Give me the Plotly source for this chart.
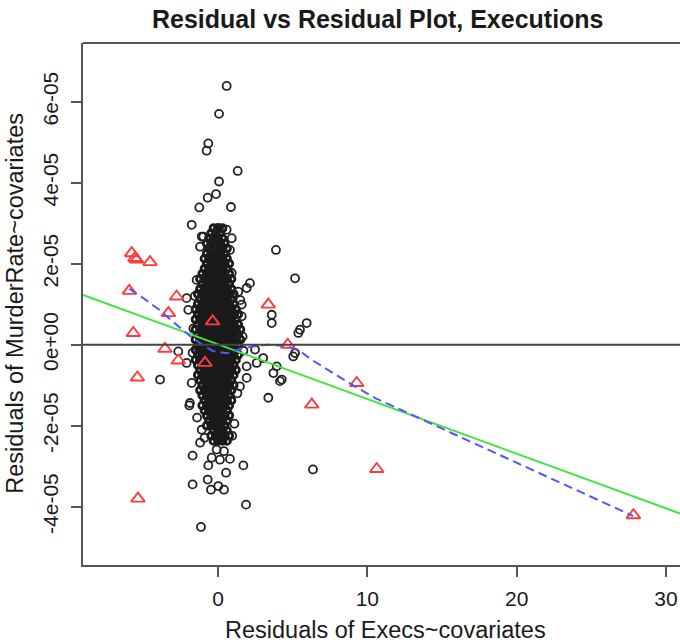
import plotly.graph_objects as go

# ---------------- data (y values in units of 1e-6) ----------------
# dense core of the black circle cloud: (y, list of x)
core_rows = [
    (28.75, [-0.3, 0.0, 0.3]),
    (27.5, [-0.45, -0.15, 0.15]),
    (26.25, [-0.6, -0.3, 0.0, 0.3]),
    (25.0, [-0.75, -0.45, -0.15, 0.15, 0.45]),
    (23.75, [-0.6, -0.3, 0.0, 0.3, 0.6]),
    (22.5, [-0.75, -0.45, -0.15, 0.15, 0.45]),
    (21.25, [-0.9, -0.6, -0.3, 0.0, 0.3, 0.6]),
    (20.0, [-0.75, -0.45, -0.15, 0.15, 0.45, 0.75]),
    (18.75, [-0.9, -0.6, -0.3, 0.0, 0.3, 0.6]),
    (17.5, [-1.05, -0.75, -0.45, -0.15, 0.15, 0.45, 0.75]),
    (16.25, [-1.2, -0.9, -0.6, -0.3, 0.0, 0.3, 0.6, 0.9]),
    (15.0, [-1.05, -0.75, -0.45, -0.15, 0.15, 0.45, 0.75]),
    (13.75, [-1.2, -0.9, -0.6, -0.3, 0.0, 0.3, 0.6, 0.9]),
    (12.5, [-1.35, -1.05, -0.75, -0.45, -0.15, 0.15, 0.45, 0.75, 1.05]),
    (11.25, [-1.2, -0.9, -0.6, -0.3, 0.0, 0.3, 0.6, 0.9]),
    (10.0, [-1.35, -1.05, -0.75, -0.45, -0.15, 0.15, 0.45, 0.75, 1.05]),
    (8.75, [-1.5, -1.2, -0.9, -0.6, -0.3, 0.0, 0.3, 0.6, 0.9, 1.2]),
    (7.5, [-1.35, -1.05, -0.75, -0.45, -0.15, 0.15, 0.45, 0.75, 1.05, 1.35]),
    (6.25, [-1.5, -1.2, -0.9, -0.6, -0.3, 0.0, 0.3, 0.6, 0.9, 1.2]),
    (5.0, [-1.35, -1.05, -0.75, -0.45, -0.15, 0.15, 0.45, 0.75, 1.05, 1.35]),
    (3.75, [-1.5, -1.2, -0.9, -0.6, -0.3, 0.0, 0.3, 0.6, 0.9, 1.2, 1.5]),
    (2.5, [-1.35, -1.05, -0.75, -0.45, -0.15, 0.15, 0.45, 0.75, 1.05, 1.35]),
    (1.25, [-1.5, -1.2, -0.9, -0.6, -0.3, 0.0, 0.3, 0.6, 0.9, 1.2, 1.5]),
    (0.0, [-1.35, -1.05, -0.75, -0.45, -0.15, 0.15, 0.45, 0.75, 1.05, 1.35]),
    (-1.25, [-1.5, -1.2, -0.9, -0.6, -0.3, 0.0, 0.3, 0.6, 0.9, 1.2]),
    (-2.5, [-1.35, -1.05, -0.75, -0.45, -0.15, 0.15, 0.45, 0.75, 1.05, 1.35]),
    (-3.75, [-1.5, -1.2, -0.9, -0.6, -0.3, 0.0, 0.3, 0.6, 0.9, 1.2]),
    (-5.0, [-1.35, -1.05, -0.75, -0.45, -0.15, 0.15, 0.45, 0.75, 1.05]),
    (-6.25, [-1.2, -0.9, -0.6, -0.3, 0.0, 0.3, 0.6, 0.9, 1.2]),
    (-7.5, [-1.35, -1.05, -0.75, -0.45, -0.15, 0.15, 0.45, 0.75, 1.05]),
    (-8.75, [-1.2, -0.9, -0.6, -0.3, 0.0, 0.3, 0.6, 0.9]),
    (-10.0, [-1.05, -0.75, -0.45, -0.15, 0.15, 0.45, 0.75, 1.05]),
    (-11.25, [-1.2, -0.9, -0.6, -0.3, 0.0, 0.3, 0.6, 0.9]),
    (-12.5, [-1.05, -0.75, -0.45, -0.15, 0.15, 0.45, 0.75]),
    (-13.75, [-0.9, -0.6, -0.3, 0.0, 0.3, 0.6, 0.9]),
    (-15.0, [-1.05, -0.75, -0.45, -0.15, 0.15, 0.45, 0.75]),
    (-16.25, [-0.9, -0.6, -0.3, 0.0, 0.3, 0.6]),
    (-17.5, [-0.75, -0.45, -0.15, 0.15, 0.45, 0.75]),
    (-18.75, [-0.6, -0.3, 0.0, 0.3, 0.6]),
    (-20.0, [-0.75, -0.45, -0.15, 0.15, 0.45]),
    (-21.25, [-0.3, 0.0, 0.3, 0.6]),
    (-22.5, [-0.45, -0.15, 0.15, 0.45, 0.75]),
    (-23.75, [-0.3, 0.0, 0.3, 0.6]),
]

# scattered black circles outside the core
outlier_x = [0.58, 0.07, -0.65, -0.76, 1.32, 0.07, -0.13, -0.69, -1.25, 0.87,
             -1.76, -1.09, 0.02, 0.58, 0.80, 3.88, -0.20, -0.42,
             5.16, 2.14, 1.92, 1.36, 0.92, 0.92, -2.10, -1.99, -1.43, -1.20,
             -0.98, 1.59, 1.59, 3.60, 3.60, 5.94, 5.49, 5.38, -2.66, -3.88,
             2.48, 3.03, 2.59, 1.92, 3.93, 3.71, 4.27, 5.16, 5.04, 3.37,
             1.92, 1.47, -1.88, -1.76, -2.10,
             4.15, -1.92, -1.09, -1.20, -1.70, -0.09, 0.40, 0.80, -0.42,
             0.13, -0.65, 0.54, 1.70, -1.70, -0.69, -0.47, 0.02, 0.40, 1.88,
             -1.14, 6.36,
             -1.65, -1.70, 1.65, 1.70, 1.50, -1.55, 1.30, -1.40, 1.10, 0.95,
             -0.90]
outlier_y = [63.9, 57.0, 49.7, 47.9, 42.9, 40.3, 37.2, 36.3, 33.9, 34.0,
             29.6, 26.7, 28.8, 28.4, 23.4, 23.4, 26.7, 24.2,
             16.4, 15.2, 14.0, 13.1, 17.7, 26.3, 11.5, 8.6, 16.0, 24.2,
             26.7, 9.9, 7.0, 7.4, 5.35, 5.35, 3.7, 2.9, -1.65, -8.6,
             -1.2, -3.3, -4.5, -5.35, -5.35, -7.0, -8.6, -2.05, -2.9, -13.1,
             -8.2, -10.3, -14.4, -9.45, -4.5,
             -9.0, -15.0, -21.0, -24.2, -27.4, -25.9, -26.3, -28.2, -27.9,
             -28.4, -29.8, -31.6, -29.8, -34.5, -33.3, -35.8, -34.9, -35.8, -39.5,
             -45.0, -30.8,
             4.0, -2.0, 2.0, -1.5, 11.0, 12.0, -12.0, -18.0, -19.5, -22.5,
             -23.0]

# red triangles
tri_x = [-5.78, -5.56, -5.45, -4.55, -5.94, -2.77, -3.32, -5.67, -3.55, -2.66,
         -5.40, -0.36, -0.87, 3.37, 4.67, 6.28, 9.29, 10.63, 27.82, -5.36]
tri_y = [22.6, 21.4, 21.0, 20.4, 13.3, 11.9, 7.8, 2.9, -1.0, -3.9,
         -8.1, 5.75, -4.5, 9.9, 0.0, -14.8, -9.45, -30.7, -42.1, -38.0]

# blue dashed smooth curve
smooth_x = [-5.94, -5.0, -4.0, -3.3, -2.7, -1.9, -0.9, -0.3, 0.6, 1.7, 3.3,
            4.6, 5.5, 6.3, 9.3, 10.6, 27.8]
smooth_y = [13.8, 11.5, 8.8, 6.6, 4.8, 2.2, -0.4, -1.6, -2.1, -0.8, 0.0,
            -0.3, -1.6, -3.8, -10.6, -13.3, -42.3]

# green fitted line  y = a + b x
fit_intercept = 0.1
fit_slope = -1.35

x_ticks = [0, 10, 20, 30]
y_ticks = [-40, -20, 0, 20, 40, 60]
y_tick_text = ["-4e-05", "-2e-05", "0e+00", "2e-05", "4e-05", "6e-05"]

x_range = [-9.04, 30.94]
y_range = [-54.4, 74.5]

# ---------------- figure ----------------
core_x = [x for y, xs in core_rows for x in xs]
core_y = [y for y, xs in core_rows for x in xs]

FONT = "Liberation Sans, Arial, sans-serif"
TXT = "#1a1a1a"
AX = "#555555"

fig = go.Figure()
fig.add_trace(go.Scatter(
    x=core_x, y=core_y, mode="markers",
    marker=dict(symbol="circle-open", size=7, color="#1a1a1a",
                line=dict(width=2.8, color="#1a1a1a")),
    hoverinfo="skip", showlegend=False))
fig.add_trace(go.Scatter(
    x=outlier_x, y=outlier_y, mode="markers",
    marker=dict(symbol="circle-open", size=8, color="#222222",
                line=dict(width=1.8, color="#222222")),
    hoverinfo="skip", showlegend=False))
fig.add_trace(go.Scatter(
    x=tri_x, y=tri_y, mode="markers",
    marker=dict(symbol="triangle-up-open", size=12, color="#ff3b3b",
                line=dict(width=1.9, color="#ff3b3b")),
    hoverinfo="skip", showlegend=False))
fig.add_trace(go.Scatter(
    x=x_range, y=[fit_intercept + fit_slope * v for v in x_range],
    mode="lines", line=dict(color="#3ce63c", width=2),
    hoverinfo="skip", showlegend=False))
fig.add_trace(go.Scatter(
    x=smooth_x, y=smooth_y, mode="lines",
    line=dict(color="#5555ff", width=2, dash="9px,5px"),
    hoverinfo="skip", showlegend=False))

fig.update_layout(
    width=680, height=644,
    margin=dict(l=83, r=0, t=43, b=78.5),
    paper_bgcolor="white", plot_bgcolor="white",
    font=dict(family=FONT, color=TXT),
    xaxis=dict(range=x_range, tickvals=x_ticks, ticks="outside", ticklen=10,
               tickwidth=1.8, tickcolor=AX, showline=True, linecolor=AX,
               linewidth=1.8, showgrid=False, zeroline=False,
               tickfont=dict(size=21, family=FONT, color=TXT),
               ticklabelstandoff=4),
    yaxis=dict(range=y_range, tickvals=y_ticks, ticktext=y_tick_text,
               ticks="outside", ticklen=10, tickwidth=1.8, tickcolor=AX,
               showline=True, linecolor=AX, linewidth=1.8, showgrid=False,
               zeroline=False, tickangle=-90,
               tickfont=dict(size=21, family=FONT, color=TXT),
               ticklabelstandoff=5),
    shapes=[
        dict(type="line", xref="paper", yref="paper", x0=0, x1=1, y0=1, y1=1,
             line=dict(color=AX, width=1.8)),
        dict(type="line", xref="paper", yref="y", x0=0, x1=1, y0=0, y1=0,
             line=dict(color="#444444", width=2)),
    ],
    annotations=[
        dict(text="<b>Residual vs Residual Plot, Executions</b>",
             xref="paper", yref="paper", x=(378 - 83) / 597,
             y=(565.5 - 19) / 522.5, xanchor="center", yanchor="middle",
             showarrow=False, font=dict(size=25, family=FONT, color=TXT)),
        dict(text="Residuals of Execs~covariates",
             xref="paper", yref="paper", x=(385 - 83) / 597,
             y=(565.5 - 631) / 522.5, xanchor="center", yanchor="middle",
             showarrow=False, font=dict(size=23.5, family=FONT, color=TXT)),
        dict(text="Residuals of MurderRate~covariates",
             xref="paper", yref="paper", x=(15 - 83) / 597,
             y=(565.5 - 304) / 522.5, xanchor="center", yanchor="middle",
             textangle=-90, showarrow=False,
             font=dict(size=23.5, family=FONT, color=TXT)),
    ],
)

fig.write_html("out.html",
               config={"displayModeBar": False, "staticPlot": True},
               post_script="document.body.style.margin='0px';"
                           "document.body.style.overflow='hidden';")
